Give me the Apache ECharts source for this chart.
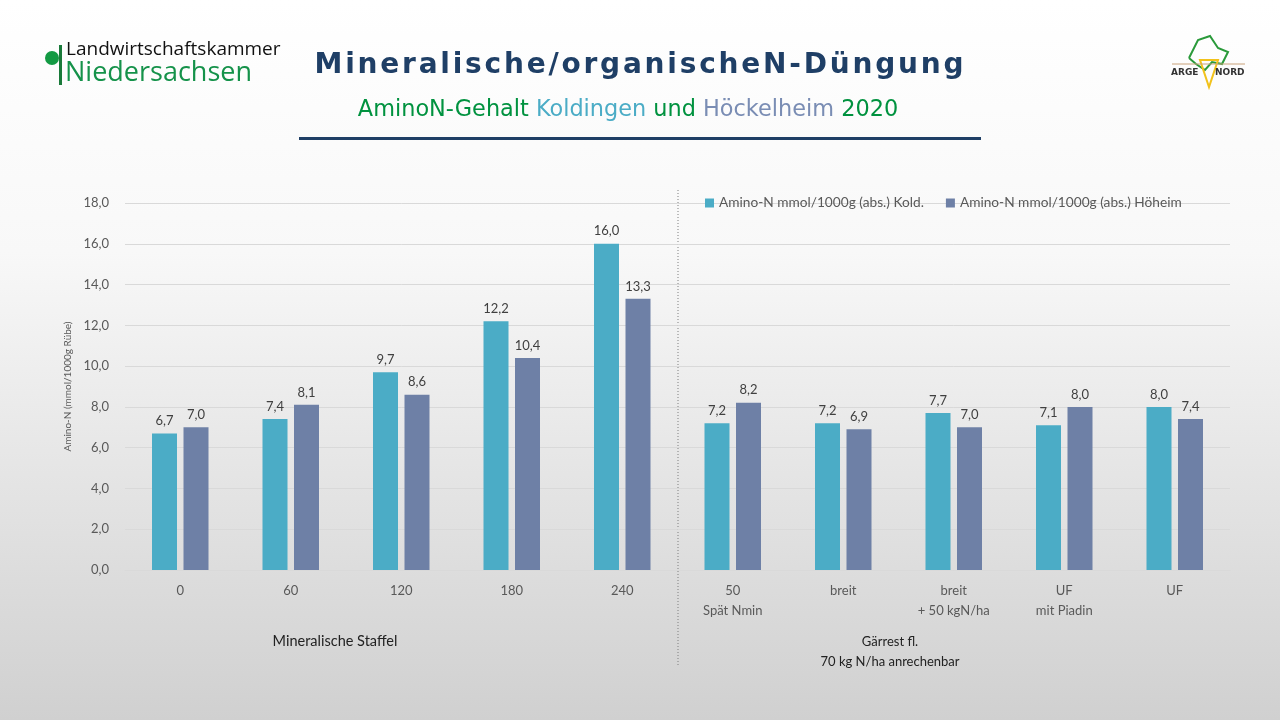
<!DOCTYPE html>
<html lang="de">
<head>
<meta charset="UTF-8">
<title>Mineralische/organischeN-Düngung</title>
<script src="https://cdn.jsdelivr.net/npm/echarts@6.0.0/dist/echarts.min.js"></script>
<style>
  html, body { margin: 0; padding: 0; }
  #chart { width: 1280px; height: 720px; }
</style>
</head>
<body>
<div id="chart"></div>
<script>
// Daten
const categories = ['0', '60', '120', '180', '240', '50\nSpät Nmin', 'breit', 'breit\n+ 50 kgN/ha', 'UF\nmit Piadin', 'UF'];
const koldingen = [6.7, 7.4, 9.7, 12.2, 16.0, 7.2, 7.2, 7.7, 7.1, 8.0];
const hoeckelheim = [7.0, 8.1, 8.6, 10.4, 13.3, 8.2, 6.9, 7.0, 8.0, 7.4];
const seriesNames = ['Amino-N mmol/1000g (abs.) Kold.', 'Amino-N mmol/1000g (abs.) Höheim'];
const yTicks = { min: 0, max: 18, interval: 2 };

const labelFont = 'Lato, "Open Sans", sans-serif';
const comma = v => v.toFixed(1).replace('.', ',');
// Titel mit Sperrung (Haarspatien zwischen den Buchstaben)
const spaced = s => s.split('').join('\u200A');

const chart = echarts.init(document.getElementById('chart'));

chart.setOption({
    backgroundColor: {
        type: 'linear', x: 0, y: 0, x2: 0, y2: 1,
        colorStops: [
            { offset: 0, color: '#ffffff' },
            { offset: 0.35, color: '#f8f8f8' },
            { offset: 1, color: '#d0d0d0' }
        ]
    },
    textStyle: { fontFamily: labelFont },
    legend: {
        left: 700, top: 191,
        itemWidth: 9, itemHeight: 9, itemGap: 22,
        icon: 'rect',
        textStyle: { color: '#595959', fontSize: 13.7 },
        data: seriesNames
    },
    grid: { left: 125, right: 50, top: 203, bottom: 150 },
    xAxis: {
        type: 'category',
        data: categories,
        axisLine: { lineStyle: { color: '#d9d9d9' } },
        axisTick: { show: false },
        axisLabel: { color: '#595959', fontSize: 13, margin: 11, lineHeight: 20 }
    },
    yAxis: {
        type: 'value',
        min: yTicks.min, max: yTicks.max, interval: yTicks.interval,
        name: 'Amino-N (mmol/1000g Rübe)',
        nameLocation: 'middle',
        nameGap: 47,
        nameTextStyle: { color: '#595959', fontSize: 10 },
        axisLine: { show: false },
        axisTick: { show: false },
        axisLabel: { color: '#595959', fontSize: 13, margin: 16, formatter: v => comma(v) },
        splitLine: { lineStyle: { color: '#d9d9d9' } }
    },
    series: [
        {
            name: seriesNames[0], type: 'bar', data: koldingen,
            barWidth: 25, barGap: '26%',
            itemStyle: { color: '#4bacc6' },
            label: { show: true, position: 'top', distance: 6, color: '#404040', fontSize: 13,
                     formatter: p => comma(p.value) }
        },
        {
            name: seriesNames[1], type: 'bar', data: hoeckelheim,
            barWidth: 25,
            itemStyle: { color: '#6e80a6' },
            label: { show: true, position: 'top', distance: 6, color: '#404040', fontSize: 13,
                     formatter: p => comma(p.value) }
        }
    ],
    graphic: [
        // Titel
        { type: 'text', x: 639, y: 66,
          style: { text: spaced('Mineralische/organischeN-Düngung'), fill: '#1f3f66',
                   font: 'bold 28px "DejaVu Sans", sans-serif', align: 'center', verticalAlign: 'middle' } },
        { type: 'text', x: 628, y: 110,
          style: { text: '{g|AminoN-Gehalt }{k|Koldingen}{g| und }{h|Höckelheim}{g| 2020}',
                   align: 'center', verticalAlign: 'middle',
                   rich: {
                       g: { fill: '#00923f', font: '22.4px "DejaVu Sans", sans-serif' },
                       k: { fill: '#4bacc6', font: '22.4px "DejaVu Sans", sans-serif' },
                       h: { fill: '#7a8db4', font: '22.4px "DejaVu Sans", sans-serif' }
                   } } },
        { type: 'rect', shape: { x: 299, y: 137, width: 682, height: 3 }, style: { fill: '#1f3f66' } },

        // Logo Landwirtschaftskammer
        { type: 'circle', shape: { cx: 52, cy: 58, r: 7 }, style: { fill: '#139a43' } },
        { type: 'rect', shape: { x: 59, y: 45, width: 3, height: 40 }, style: { fill: '#1a7a3a' } },
        { type: 'text', left: 66, top: 40,
          style: { text: 'Landwirtschaftskammer', fill: '#111', font: '19px "Open Sans", sans-serif' } },
        { type: 'text', left: 65, top: 60,
          style: { text: 'Niedersachsen', fill: '#15924a', font: '27px "Open Sans", sans-serif' } },

        // Logo ARGE NORD
        { type: 'polyline', shape: { points: [[1189, 58], [1198, 40], [1210, 36], [1218, 48], [1228, 52], [1222, 64], [1212, 62], [1205, 70], [1196, 64], [1189, 58]] },
          style: { stroke: '#2a9a3a', lineWidth: 2, fill: 'none' } },
        { type: 'polygon', shape: { points: [[1200, 60], [1218, 60], [1209, 87]] },
          style: { stroke: '#f2c21b', lineWidth: 2, fill: 'rgba(0,0,0,0)' } },
        { type: 'line', shape: { x1: 1172, y1: 64, x2: 1245, y2: 64 }, style: { stroke: '#c9a27a', lineWidth: 1 } },
        { type: 'text', left: 1171, top: 68,
          style: { text: 'ARGE', fill: '#333', font: 'bold 9px "DejaVu Sans", sans-serif' } },
        { type: 'text', left: 1215, top: 68,
          style: { text: 'NORD', fill: '#333', font: 'bold 9px "DejaVu Sans", sans-serif' } },

        // Trennlinie und Gruppenbeschriftungen
        { type: 'line', shape: { x1: 678, y1: 190, x2: 678, y2: 666 },
          style: { stroke: '#7f7f7f', lineWidth: 1, lineDash: [1, 2] } },
        { type: 'text', x: 335, y: 641,
          style: { text: 'Mineralische Staffel', fill: '#222', font: '14.5px Lato, sans-serif',
                   align: 'center', verticalAlign: 'middle' } },
        { type: 'text', x: 890, y: 632,
          style: { text: 'Gärrest fl.\n70 kg N/ha anrechenbar', fill: '#222', font: '13px Lato, sans-serif',
                   align: 'center', lineHeight: 20 } }
    ]
});

window.onresize = function () { chart.resize(); };
</script>
</body>
</html>
